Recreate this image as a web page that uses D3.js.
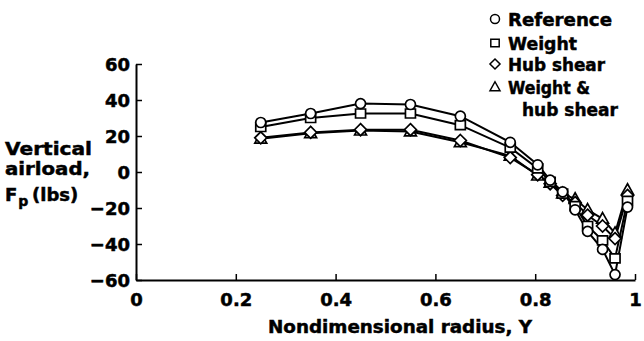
<!DOCTYPE html>
<html><head><meta charset="utf-8">
<script src="https://cdn.jsdelivr.net/npm/d3@7"></script>
<style>
html,body{margin:0;padding:0;background:#fff;}
svg{display:block;}
text{font-family:"DejaVu Sans",sans-serif;font-weight:bold;fill:#000;stroke:#000;stroke-width:0.5px;}
</style></head>
<body>
<svg id="chart" width="644" height="341"></svg>
<script>
// ---- data ----
const radius = [0.25,0.35,0.45,0.55,0.65,0.75,0.805,0.83,0.855,0.88,0.905,0.935,0.96,0.985];
const reference = [27.5,32.5,38,37.5,31,16.5,4,-4.5,-11,-21,-33,-43,-57,-19.5];
const weight    = [25,30,32.5,32.5,26,13.5,2,-5.5,-12,-19,-30,-38,-48,-16];
const hubShear  = [19,22,23.5,23.5,17.5,8,-1.5,-6.5,-13,-17,-24,-30,-37,-13];
const weightHub = [18.5,21.5,23,22.5,16.5,9,-2,-6,-12,-15,-21,-26,-34,-10];
const seriesNames = ["Reference","Weight","Hub shear","Weight &|hub shear"];
const xTicks = [0,0.2,0.4,0.6,0.8,1];
const yTicks = [60,40,20,0,-20,-40,-60];

const svg = d3.select("#chart");
const x = d3.scaleLinear().domain([0,1]).range([136,635]);
const y = d3.scaleLinear().domain([-60,60]).range([280,64]);

// axes
const gx = svg.append("g").attr("transform","translate(0,280)")
  .call(d3.axisBottom(x).tickValues(xTicks).tickSizeInner(-6).tickSizeOuter(0).tickPadding(10)
    .tickFormat(d=>d===0||d===1?String(d):d3.format(".1f")(d)));
const gy = svg.append("g").attr("transform","translate(136,0)")
  .call(d3.axisLeft(y).tickValues(yTicks).tickSizeInner(-6).tickSizeOuter(0).tickPadding(8)
    .tickFormat(d3.format("d")));
[gx,gy].forEach(g=>{
  g.select(".domain").attr("stroke","#000").attr("stroke-width",2);
  g.selectAll(".tick line").attr("stroke","#000").attr("stroke-width",1.5);
  g.selectAll(".tick text").attr("font-size",18).attr("font-family","DejaVu Sans").attr("font-weight","bold").attr("fill","#000");
});
gx.selectAll(".tick text").attr("dy","0.9em");
gy.selectAll(".tick text").attr("dy","0.36em").attr("x",-6);

// axis titles
svg.append("text").attr("x",400).attr("y",333).attr("text-anchor","middle")
  .attr("font-size",18).attr("textLength",264).attr("lengthAdjust","spacingAndGlyphs")
  .text("Nondimensional radius, Y");
svg.append("text").attr("x",5).attr("y",155).attr("font-size",18)
  .attr("textLength",87).attr("lengthAdjust","spacingAndGlyphs").text("Vertical");
svg.append("text").attr("x",5).attr("y",175).attr("font-size",18)
  .attr("textLength",85).attr("lengthAdjust","spacingAndGlyphs").text("airload,");
const t3 = svg.append("text").attr("x",5).attr("y",201).attr("font-size",18);
t3.append("tspan").text("F");
t3.append("tspan").attr("font-size",14).attr("dy",5).attr("dx",1).text("p");
t3.append("tspan").attr("dy",-5).attr("x",32).text("(lbs)");

// marker shapes
function shapePath(kind, s){
  if(kind===0){ return d3.symbol().type(d3.symbolCircle).size(Math.PI*s*s)(); }
  if(kind===1){ return `M${-s},${-s*0.9}H${s}V${s*0.9}H${-s}Z`; }
  if(kind===2){ const r=s*1.2; return `M0,${-r}L${r},0L0,${r}L${-r},0Z`; }
  const r=s*1.25; return `M0,${-r}L${r*0.95},${r*0.7}L${-r*0.95},${r*0.7}Z`;
}
const allSeries = [reference, weight, hubShear, weightHub];
const line = d3.line().x((d,i)=>x(radius[i])).y(d=>y(d));
allSeries.forEach((vals)=>{
  svg.append("path").attr("d",line(vals)).attr("fill","none").attr("stroke","#000").attr("stroke-width",2);
});
[3,2,1,0].forEach(k=>{
  svg.append("g").selectAll("path").data(allSeries[k]).join("path")
    .attr("transform",(d,i)=>`translate(${x(radius[i])},${y(d)})`)
    .attr("d",shapePath(k,5))
    .attr("fill","#fff").attr("stroke","#000").attr("stroke-width",1.7);
});

// legend
const legY = [19,43,64,87];
seriesNames.forEach((name,k)=>{
  svg.append("path").attr("transform",`translate(495,${legY[k]})`)
    .attr("d",shapePath(k,k===0?4.5:4.2)).attr("fill","#fff").attr("stroke","#000").attr("stroke-width",1.5);
  const parts = name.split("|");
  const lens = [[104],[69],[97],[82,96]][k];
  parts.forEach((p,j)=>{
    svg.append("text").attr("x",j===0?508:522).attr("y",legY[k]+7+j*22)
      .attr("font-size",18).attr("textLength",lens[j]).attr("lengthAdjust","spacingAndGlyphs").text(p);
  });
});
</script>
</body></html>
